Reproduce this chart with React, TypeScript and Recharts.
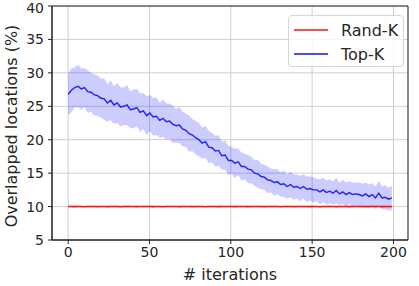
import React from 'react';
import {
  ComposedChart,
  Area,
  Line,
  XAxis,
  YAxis,
  CartesianGrid,
  Legend,
  ReferenceArea,
} from 'recharts';

// iteration index for each sample (100 samples spread over 0..199)
const iterations = Array.from({ length: 100 }, (_, i) => (i * 199) / 99);

const topKMean = [
  26.8, 27.4, 27.8, 28.0, 27.6, 27.8, 27.2, 27.1, 26.7, 26.6,
  26.2, 26.1, 25.5, 25.9, 25.2, 25.5, 24.9, 25.0, 25.2, 24.5,
  24.6, 24.8, 24.1, 24.3, 23.6, 24.0, 23.4, 23.5, 22.9, 23.2,
  22.7, 22.8, 22.3, 22.1, 22.2, 21.6, 21.4, 20.9, 20.7, 20.3,
  20.0, 19.5, 19.7, 18.9, 18.8, 18.3, 18.4, 17.6, 17.7, 16.9,
  16.9, 16.5, 16.7, 16.0, 16.0, 15.6, 15.5, 15.0, 14.9, 14.5,
  14.4, 14.0, 13.9, 13.6, 13.7, 13.3, 13.4, 13.0, 13.3, 12.9,
  13.0, 12.7, 13.0, 12.6, 12.7, 12.5, 12.5, 12.2, 12.5, 12.1,
  12.3, 12.0, 12.4, 11.9, 12.2, 11.8, 12.1, 11.8, 11.9, 11.8,
  11.6, 11.9, 11.5, 11.8, 11.3, 12.0, 11.3, 11.4, 11.1, 11.3,
];

const topKSpread = [
  3.1, 3.3, 3.0, 3.2, 3.1, 2.9, 3.2, 2.9, 3.1, 3.0,
  2.9, 3.1, 2.8, 3.0, 2.8, 3.0, 2.9, 2.8, 3.0, 2.8,
  2.9, 2.8, 2.9, 2.7, 2.9, 2.7, 2.8, 2.8, 2.6, 2.8,
  2.7, 2.6, 2.8, 2.5, 2.7, 2.6, 2.5, 2.7, 2.4, 2.5,
  2.5, 2.3, 2.4, 2.4, 2.2, 2.3, 2.3, 2.1, 2.2, 2.2,
  2.0, 2.2, 2.0, 2.1, 1.9, 2.1, 2.0, 1.9, 2.1, 1.9,
  1.9, 2.0, 1.8, 2.0, 1.9, 1.8, 2.0, 1.8, 1.9, 1.9,
  1.8, 1.9, 1.8, 1.9, 1.8, 1.9, 1.7, 1.9, 1.8, 1.8,
  1.8, 1.7, 1.9, 1.7, 1.8, 1.8, 1.7, 1.8, 1.7, 1.8,
  1.8, 1.7, 1.8, 1.7, 1.7, 1.8, 1.7, 1.8, 1.7, 1.8,
];

const randKMean = [
  10.0, 10.02, 9.99, 10.01, 10.0, 9.98, 10.01, 10.02, 10.0, 9.99,
  10.01, 10.0, 9.99, 10.02, 10.01, 10.0, 9.98, 10.0, 10.01, 10.02,
  10.0, 9.99, 10.01, 10.0, 10.02, 10.01, 9.99, 10.0, 10.01, 9.98,
  10.0, 10.02, 10.01, 10.0, 9.99, 10.01, 10.0, 10.02, 9.99, 10.0,
  10.01, 10.0, 9.98, 10.01, 10.02, 10.0, 9.99, 10.01, 10.0, 10.01,
  10.0, 9.99, 10.02, 10.0, 10.01, 9.99, 10.0, 10.01, 10.02, 10.0,
  9.99, 10.01, 10.0, 10.02, 10.0, 9.98, 10.01, 10.0, 10.01, 9.99,
  10.0, 10.02, 10.01, 10.0, 9.99, 10.01, 10.0, 9.98, 10.01, 10.0,
  10.02, 10.0, 9.99, 10.01, 10.0, 10.01, 9.99, 10.0, 10.02, 10.01,
  10.0, 9.99, 10.01, 10.0, 10.02, 10.0, 9.99, 10.01, 10.0, 10.01,
];

const randKSpread = [
  0.15, 0.18, 0.16, 0.14, 0.17, 0.15, 0.16, 0.18, 0.15, 0.14,
  0.16, 0.17, 0.15, 0.16, 0.14, 0.18, 0.15, 0.16, 0.17, 0.15,
  0.14, 0.16, 0.15, 0.17, 0.16, 0.15, 0.18, 0.14, 0.16, 0.15,
  0.17, 0.15, 0.16, 0.14, 0.15, 0.17, 0.16, 0.15, 0.18, 0.16,
  0.15, 0.14, 0.16, 0.17, 0.15, 0.16, 0.15, 0.18, 0.14, 0.16,
  0.15, 0.17, 0.16, 0.15, 0.14, 0.16, 0.17, 0.15, 0.16, 0.18,
  0.15, 0.16, 0.14, 0.17, 0.15, 0.16, 0.15, 0.17, 0.16, 0.14,
  0.16, 0.15, 0.17, 0.16, 0.18, 0.15, 0.14, 0.16, 0.15, 0.17,
  0.16, 0.15, 0.14, 0.16, 0.17, 0.15, 0.16, 0.18, 0.15, 0.16,
  0.14, 0.16, 0.15, 0.17, 0.16, 0.15, 0.16, 0.14, 0.17, 0.15,
];

const xTicks = [0, 50, 100, 150, 200];
const yTicks = [5, 10, 15, 20, 25, 30, 35, 40];
const seriesNames = ['Rand-K', 'Top-K'];
const seriesColors = ['#ff0000', '#0000ff'];

const data = iterations.map((it, i) => ({
  it,
  rand: randKMean[i],
  randBand: [randKMean[i] - randKSpread[i], randKMean[i] + randKSpread[i]],
  top: topKMean[i],
  topBand: [topKMean[i] - topKSpread[i], topKMean[i] + topKSpread[i]],
}));

const FONT = 'DejaVu Sans, sans-serif';
const INK = '#262626';

const LegendBox = () => (
  <div
    style={{
      width: 116,
      height: 52,
      boxSizing: 'border-box',
      border: '1px solid #d6d6d6',
      borderRadius: 4,
      background: 'rgba(255,255,255,0.8)',
      fontFamily: FONT,
      fontSize: 16,
      color: INK,
      paddingTop: 2,
    }}
  >
    {seriesNames.map((name, i) => (
      <div key={name} style={{ display: 'flex', alignItems: 'center', height: 24 }}>
        <div style={{ width: 34, height: 2, marginLeft: 5, marginRight: 13, background: seriesColors[i], opacity: 0.7 }} />
        <span>{name}</span>
      </div>
    ))}
  </div>
);

export default function App() {
  return (
    <div style={{ position: 'absolute', left: 0, top: 0, width: 419, height: 286, background: '#fff' }}>
      <ComposedChart width={419} height={286} data={data} margin={{ top: 6, right: 11, bottom: 0, left: 0 }}>
        <Area
          type="linear"
          dataKey="topBand"
          stroke="none"
          fill="#0000ff"
          fillOpacity={0.2}
          isAnimationActive={false}
        />
        <Area
          type="linear"
          dataKey="randBand"
          stroke="none"
          fill="#ff0000"
          fillOpacity={0.2}
          isAnimationActive={false}
        />
        <CartesianGrid stroke="#cfcfcf" strokeWidth={1} />
        <XAxis
          dataKey="it"
          type="number"
          domain={[-9.95, 208.95]}
          ticks={xTicks}
          allowDataOverflow
          height={46}
          tickSize={4}
          tickMargin={3}
          stroke={INK}
          tick={{ fontSize: 14, fill: INK, fontFamily: FONT }}
          label={{ value: '# iterations', position: 'insideBottom', offset: 6, fontSize: 16, fill: INK, fontFamily: FONT }}
        />
        <YAxis
          type="number"
          domain={[5, 40]}
          ticks={yTicks}
          allowDataOverflow
          width={52}
          tickSize={4}
          tickMargin={4}
          stroke={INK}
          tick={{ fontSize: 14, fill: INK, fontFamily: FONT }}
          label={{
            value: 'Overlapped locations (%)',
            angle: -90,
            position: 'center',
            dx: -15,
            dy: 3,
            fontSize: 16,
            fill: INK,
            fontFamily: FONT,
          }}
        />
        <Line
          type="linear"
          dataKey="rand"
          stroke={seriesColors[0]}
          strokeOpacity={0.85}
          strokeWidth={1.6}
          dot={false}
          isAnimationActive={false}
        />
        <Line
          type="linear"
          dataKey="top"
          stroke={seriesColors[1]}
          strokeOpacity={0.85}
          strokeWidth={1.4}
          dot={false}
          isAnimationActive={false}
        />
        <ReferenceArea x1={-9.95} x2={208.95} y1={5} y2={40} fill="none" stroke={INK} strokeWidth={1} ifOverflow="visible" />
        <Legend
          layout="horizontal"
          align="center"
          verticalAlign="middle"
          content={<LegendBox />}
          wrapperStyle={{ position: 'absolute', top: 15, left: 288, width: 116, height: 52 }}
        />
      </ComposedChart>
    </div>
  );
}
